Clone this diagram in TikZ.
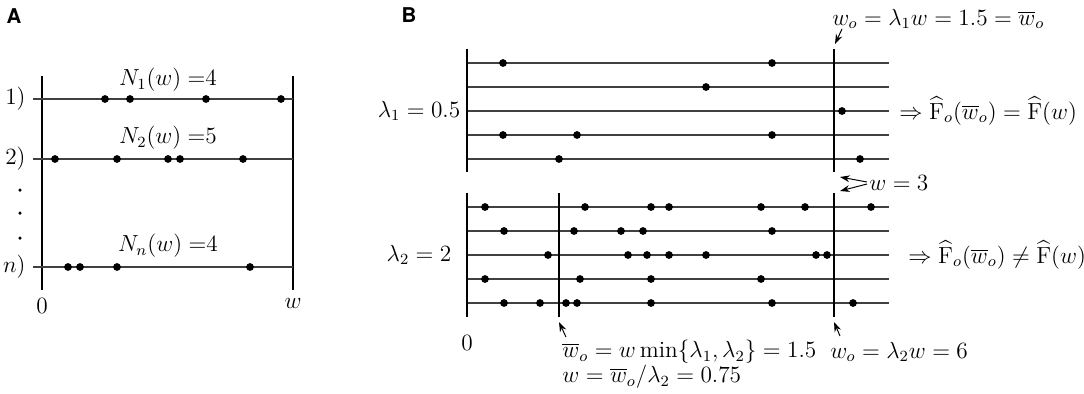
\documentclass[tikz,border=0pt,12pt]{standalone}
\usepackage{fontspec}
\usepackage{amsmath}
\newfontfamily\heros{TeX Gyre Heros}
\usetikzlibrary{arrows.meta}
\begin{document}
\begin{tikzpicture}[x=0.515pt,y=-0.515pt,
  hline/.style={line width=0.85pt,black!75},
  vline/.style={line width=1pt,black},
  lbl/.style={inner sep=0pt},
  panel/.style={inner sep=0pt,font=\heros\bfseries\fontsize{10.5}{12}\selectfont},
  arr/.style={line width=0.5pt,-{Stealth[length=5pt,width=3.5pt]}}]
\useasboundingbox (0,0) rectangle (1084,393);
% ---------- Panel A ----------
\node[panel] (pA) at (14,16) {A};
\draw[vline] (42,76) -- (42,290);
\draw[vline] (293,76) -- (293,290);
\foreach \y in {99,159,267} \draw[hline] (33,\y) -- (293,\y);
\foreach \x in {105,130,206,281} \fill (\x,99) circle[radius=2pt];
\foreach \x in {55,117,168,180,243} \fill (\x,159) circle[radius=2pt];
\foreach \x in {68,80,117,250} \fill (\x,267) circle[radius=2pt];
\foreach \y in {190,213,238} \fill (20,\y) circle[radius=0.9pt];
\node[lbl] (n1) at (168,80) {$N_1(w) =$4};
\node[lbl] (n2) at (168,138) {$N_2(w) =$5};
\node[lbl] (nn) at (168,246) {$N_n(w) =$4};
\node[lbl,anchor=east] (r1) at (26,99) {$1)$};
\node[lbl,anchor=east] (r2) at (26,159) {$2)$};
\node[lbl,anchor=east] (rn) at (26,267) {$n)$};
\node[lbl] (zA) at (42,306) {$0$};
\node[lbl] (wA) at (293,303) {$w$};
% ---------- Panel B ----------
\node[panel] (pB) at (409,15) {B};
\foreach \y in {63,87,111,135,159} \draw[hline] (467,\y) -- (889,\y);
\foreach \y in {207,231,255,279,303} \draw[hline] (467,\y) -- (889,\y);
\draw[vline] (467,49) -- (467,172);
\draw[vline] (834,49) -- (834,172);
\draw[vline] (467,193) -- (467,317);
\draw[vline] (559,193) -- (559,317);
\draw[vline] (834,193) -- (834,317);
% upper dots
\foreach \x in {503,772} \fill (\x,63) circle[radius=2pt];
\foreach \x in {706} \fill (\x,87) circle[radius=2pt];
\foreach \x in {842} \fill (\x,111) circle[radius=2pt];
\foreach \x in {503,577,772} \fill (\x,135) circle[radius=2pt];
\foreach \x in {559,860} \fill (\x,159) circle[radius=2pt];
% lower dots
\foreach \x in {485,585,651,669,761,805,871} \fill (\x,207) circle[radius=2pt];
\foreach \x in {504,574,621,643,772} \fill (\x,231) circle[radius=2pt];
\foreach \x in {548,628,647,669,706,816,827} \fill (\x,255) circle[radius=2pt];
\foreach \x in {485,580,651,761} \fill (\x,279) circle[radius=2pt];
\foreach \x in {504,540,566,577,651,772,853} \fill (\x,303) circle[radius=2pt];
% labels
\node[lbl] (l1) at (419,111) {$\lambda_1 = 0.5$};
\node[lbl] (l2) at (419,255) {$\lambda_2 = 2$};
\node[lbl,anchor=west] (wtop) at (832,19) {$w_o = \lambda_1 w = 1.5 = \overline{w}_o$};
\node[lbl,anchor=west] (eq1) at (899,111) {$\Rightarrow \widehat{\mathrm{F}}_o(\overline{w}_o) = \widehat{\mathrm{F}}(w)$};
\node[lbl,anchor=west] (eq2) at (908,255) {$\Rightarrow \widehat{\mathrm{F}}_o(\overline{w}_o) \neq \widehat{\mathrm{F}}(w)$};
\node[lbl,anchor=west] (w3) at (869,183) {$w = 3$};
\node[lbl] (zB) at (467,343) {$0$};
\node[lbl,anchor=west] (bot1) at (562,352) {$\overline{w}_o = w\min\{\lambda_1,\lambda_2\} = 1.5$};
\node[lbl,anchor=west] (bot2) at (562,377) {$w = \overline{w}_o/\lambda_2 = 0.75$};
\node[lbl,anchor=west] (bot3) at (830,352) {$w_o = \lambda_2 w = 6$};
% arrows
\coordinate (s1) at (842,29); \coordinate (t1) at (835,44);
\draw[arr] (s1) -- (t1);
\coordinate (s2) at (867,182); \coordinate (t2) at (840,177);
\coordinate (s3) at (867,184); \coordinate (t3) at (840,191);
\draw[arr] (s2) -- (t2);
\draw[arr] (s3) -- (t3);
\coordinate (s4) at (566,337); \coordinate (t4) at (559,322);
\draw[arr] (s4) -- (t4);
\coordinate (s5) at (840,336); \coordinate (t5) at (834,322);
\draw[arr] (s5) -- (t5);
\end{tikzpicture}
\end{document}
